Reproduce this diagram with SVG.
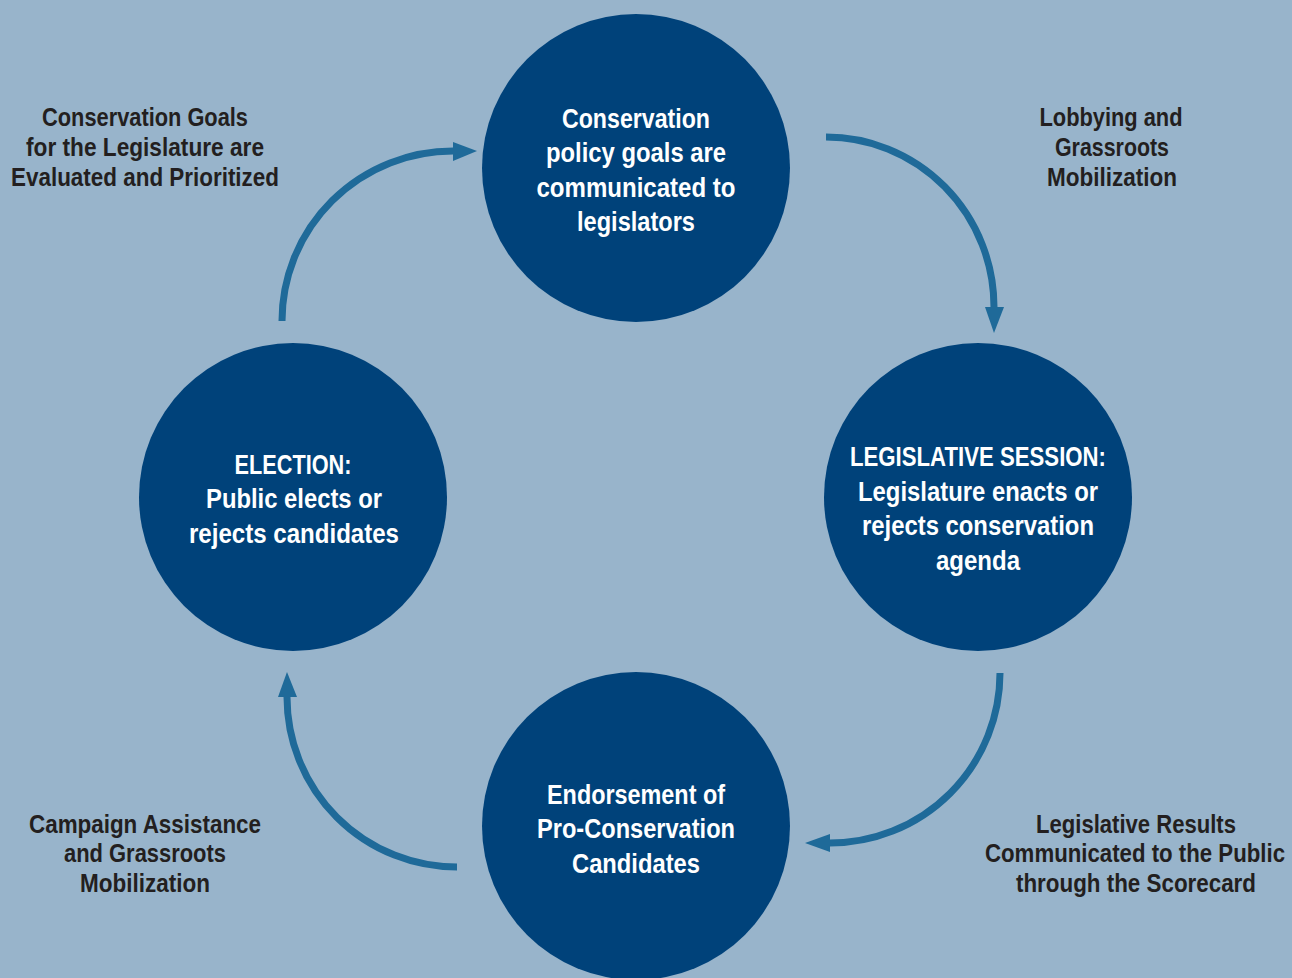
<svg xmlns="http://www.w3.org/2000/svg" width="1292" height="978" viewBox="0 0 1292 978">
<style>
.node{fill:#00427a}
.nt{font-family:"Liberation Sans",Arial,sans-serif;font-weight:bold;font-size:27px;fill:#ffffff;text-anchor:middle}
.lt{font-family:"Liberation Sans",Arial,sans-serif;font-weight:bold;font-size:25px;fill:#231f20;text-anchor:middle}
.arc{fill:none;stroke:#1f6a99;stroke-width:7}
.head{fill:#1f6a99}
</style>
<rect x="0" y="0" width="1292" height="978" fill="#98b4cb"/>
<g id="connectors">
<path class="arc" d="M826,137 A168,170 0 0 1 994,307"/>
<polygon class="head" points="985,307 1004,307 994,333"/>
<path class="arc" d="M1000,673 A170,170 0 0 1 830,843"/>
<polygon class="head" points="830,834 830,852 805,843"/>
<path class="arc" d="M457,867 A170,170 0 0 1 287,697"/>
<polygon class="head" points="278,697 297,697 287,672"/>
<path class="arc" d="M282,321 A171,170 0 0 1 453,151"/>
<polygon class="head" points="453,142 453,161 477,151"/>
</g>
<g id="node-top">
<circle class="node" cx="636" cy="168" r="154"/>
<text class="nt" x="636" y="128" textLength="148" lengthAdjust="spacingAndGlyphs">Conservation</text>
<text class="nt" x="636" y="162" textLength="180" lengthAdjust="spacingAndGlyphs">policy goals are</text>
<text class="nt" x="636" y="197" textLength="199" lengthAdjust="spacingAndGlyphs">communicated to</text>
<text class="nt" x="636" y="231" textLength="118" lengthAdjust="spacingAndGlyphs">legislators</text>
</g>
<g id="node-right">
<circle class="node" cx="978" cy="497" r="154"/>
<text class="nt" x="978" y="466" textLength="256" lengthAdjust="spacingAndGlyphs">LEGISLATIVE SESSION:</text>
<text class="nt" x="978" y="501" textLength="240" lengthAdjust="spacingAndGlyphs">Legislature enacts or</text>
<text class="nt" x="978" y="535" textLength="232" lengthAdjust="spacingAndGlyphs">rejects conservation</text>
<text class="nt" x="978" y="570" textLength="84" lengthAdjust="spacingAndGlyphs">agenda</text>
</g>
<g id="node-bottom">
<circle class="node" cx="636" cy="826" r="154"/>
<text class="nt" x="636" y="804" textLength="178" lengthAdjust="spacingAndGlyphs">Endorsement of</text>
<text class="nt" x="636" y="838" textLength="198" lengthAdjust="spacingAndGlyphs">Pro-Conservation</text>
<text class="nt" x="636" y="873" textLength="128" lengthAdjust="spacingAndGlyphs">Candidates</text>
</g>
<g id="node-left">
<circle class="node" cx="293" cy="497" r="154"/>
<text class="nt" x="293" y="474" textLength="117" lengthAdjust="spacingAndGlyphs">ELECTION:</text>
<text class="nt" x="294" y="508" textLength="176" lengthAdjust="spacingAndGlyphs">Public elects or</text>
<text class="nt" x="294" y="543" textLength="210" lengthAdjust="spacingAndGlyphs">rejects candidates</text>
</g>
<g id="label-top-left">
<text class="lt" x="145" y="126" textLength="206" lengthAdjust="spacingAndGlyphs">Conservation Goals</text>
<text class="lt" x="145" y="156" textLength="238" lengthAdjust="spacingAndGlyphs">for the Legislature are</text>
<text class="lt" x="145" y="186" textLength="268" lengthAdjust="spacingAndGlyphs">Evaluated and Prioritized</text>
</g>
<g id="label-top-right">
<text class="lt" x="1111" y="126" textLength="143" lengthAdjust="spacingAndGlyphs">Lobbying and</text>
<text class="lt" x="1112" y="156" textLength="114" lengthAdjust="spacingAndGlyphs">Grassroots</text>
<text class="lt" x="1112" y="186" textLength="130" lengthAdjust="spacingAndGlyphs">Mobilization</text>
</g>
<g id="label-bottom-left">
<text class="lt" x="145" y="833" textLength="232" lengthAdjust="spacingAndGlyphs">Campaign Assistance</text>
<text class="lt" x="145" y="862" textLength="162" lengthAdjust="spacingAndGlyphs">and Grassroots</text>
<text class="lt" x="145" y="892" textLength="130" lengthAdjust="spacingAndGlyphs">Mobilization</text>
</g>
<g id="label-bottom-right">
<text class="lt" x="1136" y="833" textLength="200" lengthAdjust="spacingAndGlyphs">Legislative Results</text>
<text class="lt" x="1135" y="862" textLength="300" lengthAdjust="spacingAndGlyphs">Communicated to the Public</text>
<text class="lt" x="1136" y="892" textLength="240" lengthAdjust="spacingAndGlyphs">through the Scorecard</text>
</g>
</svg>
